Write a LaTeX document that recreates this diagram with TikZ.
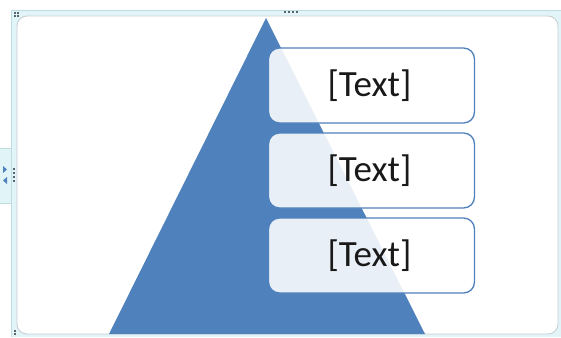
\documentclass[tikz,border=0pt]{standalone}
\usepackage{fontspec}
\setmainfont{Carlito}
\definecolor{acc}{RGB}{79,129,189}
\definecolor{band}{RGB}{225,244,248}
\definecolor{bandline}{RGB}{190,220,228}
\definecolor{frameline}{RGB}{200,205,208}
\definecolor{dotc}{RGB}{90,100,110}
\tikzset{
  textbox/.style={draw=acc, line width=1.3pt, fill=white, fill opacity=0.88, text opacity=1,
    rounded corners=11pt, minimum width=206pt, minimum height=75pt, inner sep=0pt,
    font=\fontsize{37}{40}\selectfont, text=black!90},
  grip/.style={fill=dotc}
}
\begin{document}
\begin{tikzpicture}[x=1pt,y=-1pt]
\useasboundingbox (0,0) rectangle (561,337);
% outer band
\fill[band] (11,10) rectangle (561,337);
\draw[bandline, line width=0.6pt] (11,337) -- (11,10) -- (561,10);
% left tab
\fill[band] (0,148) rectangle (11,203);
\draw[bandline, line width=0.6pt] (0,148) -- (11,148) (0,203) -- (11,203);
\fill[acc] (3,166) -- (7,169.5) -- (3,173) -- cycle;
\fill[acc] (7,177) -- (3,180.5) -- (7,184) -- cycle;
\foreach \yy in {168,172,176,180} \fill[grip] (13.2,\yy) rectangle (15.2,\yy+2);
% top grip
\foreach \xx in {284,288,292,296} \fill[grip] (\xx,11) rectangle (\xx+2,13);
% corner grips
\foreach \xx/\yy in {14/12,17/12,14/15,17/15} \fill[grip] (\xx,\yy) rectangle (\xx+1.6,\yy+1.6);
\foreach \xx/\yy in {14/330,14/333} \fill[grip] (\xx,\yy) rectangle (\xx+1.6,\yy+1.6);
% inner white frame
\node[coordinate] (tl) at (17,16) {};
\node[coordinate] (br) at (558,334) {};
\draw[frameline, fill=white, line width=0.8pt, rounded corners=10pt] (tl) rectangle (br);
% triangle
\node[coordinate] (apex) at (266,18) {};
\node[coordinate] (bl) at (109,334) {};
\node[coordinate] (brr) at (425,334) {};
\fill[acc] (apex) -- (brr) -- (bl) -- cycle;
% boxes
\node[textbox] (b1) at (371.5,85.5) {\raisebox{-1pt}{[Text]}\hspace*{4pt}};
\node[textbox] (b2) at (371.5,170.5) {\raisebox{-1pt}{[Text]}\hspace*{4pt}};
\node[textbox] (b3) at (371.5,255.5) {\raisebox{-1pt}{[Text]}\hspace*{4pt}};
\end{tikzpicture}
\end{document}
